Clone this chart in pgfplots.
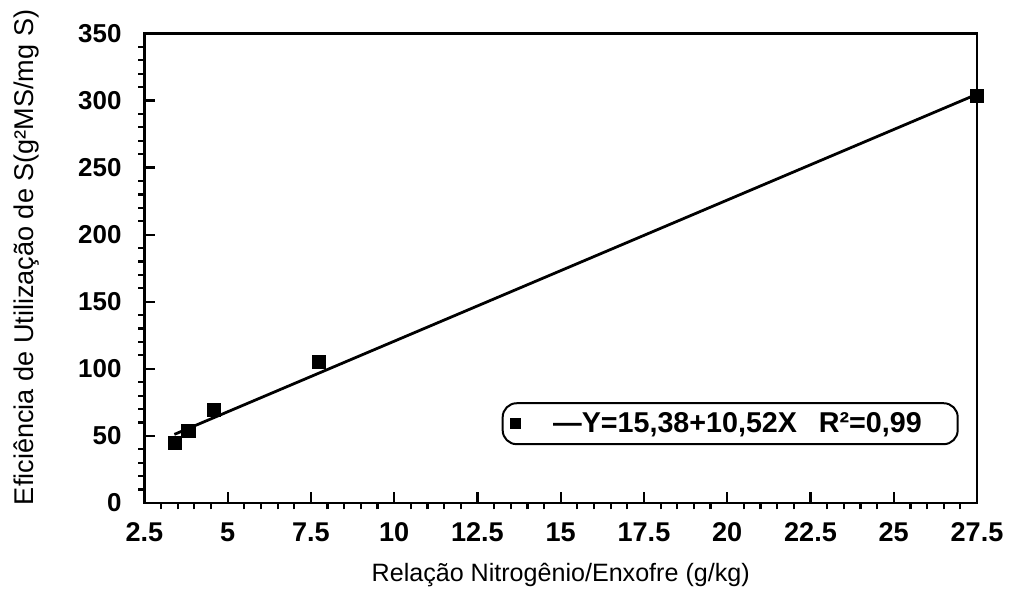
\documentclass[border=0pt]{standalone}
\usepackage{pgfplots}
\pgfplotsset{compat=1.18}
\usepackage{fontspec}
\setmainfont{Liberation Sans}
\begin{document}
\begin{tikzpicture}
\begin{axis}[
  name=ax,
  scale only axis,
  width=418pt, height=235.7pt,
  xmin=2.5, xmax=27.5, ymin=0, ymax=350,
  xtick={2.5,5,...,27.5},
  ytick={0,50,...,350},
  xticklabels={2.5,5,7.5,10,12.5,15,17.5,20,22.5,25,27.5},
  minor x tick num=4,
  minor y tick num=4,
  xtick pos=left, ytick pos=left,
  tick align=inside,
  major tick length=5.5pt,
  minor tick length=3.2pt,
  minor x tick style={yshift=-3.2pt},
  minor y tick style={xshift=-3.2pt},
  axis line style={line width=1.3pt},
  every tick/.style={black, line width=1.1pt},
  tick label style={font=\fontsize{13}{15}\selectfont\bfseries},
  xticklabel style={font=\fontsize{13.6}{15}\selectfont\bfseries, yshift=-6.5pt},
  /pgf/number format/assume math mode=true,
  yticklabel style={/pgf/number format/fixed, xshift=-8pt},
  xlabel={Relação Nitrogênio/Enxofre (g/kg)},
  ylabel={Eficiência de Utilização de S(g²MS/mg S)},
  xlabel style={at={(0.5,-0.1527)}, anchor=center, font=\fontsize{12.6}{15}\selectfont},
  ylabel style={at={(-0.141,0.523)}, anchor=center, font=\fontsize{13.6}{15}\selectfont},
  clip=false,
  legend style={
    at={(0.978,0.123)}, anchor=south east,
    draw=black, line width=1pt, rounded corners=7pt,
    font=\fontsize{14.4}{16}\selectfont\bfseries,
    inner xsep=4pt, inner ysep=2.5pt,
  },
  legend image post style={mark size=2.4pt},
  legend cell align=left,
]
\addplot[only marks, mark=square*, mark size=3.3pt, mark options={fill=black, draw=black}]
  coordinates {(3.42,44.5) (3.82,54) (4.58,69.3) (7.74,105.4) (27.5,303.6)};
\addlegendentry{\kern14.5pt—Y=15,38+10,52X\kern11pt R²=0,99\kern12pt\relax}
\addplot[black, line width=1.4pt, forget plot]
  coordinates {(3.4,51.1) (27.5,304.7)};
\end{axis}
\path ([xshift=-72.5pt, yshift=-47.5pt]ax.south west) rectangle ([xshift=14.5pt, yshift=16.8pt]ax.north east);
\end{tikzpicture}
\end{document}
